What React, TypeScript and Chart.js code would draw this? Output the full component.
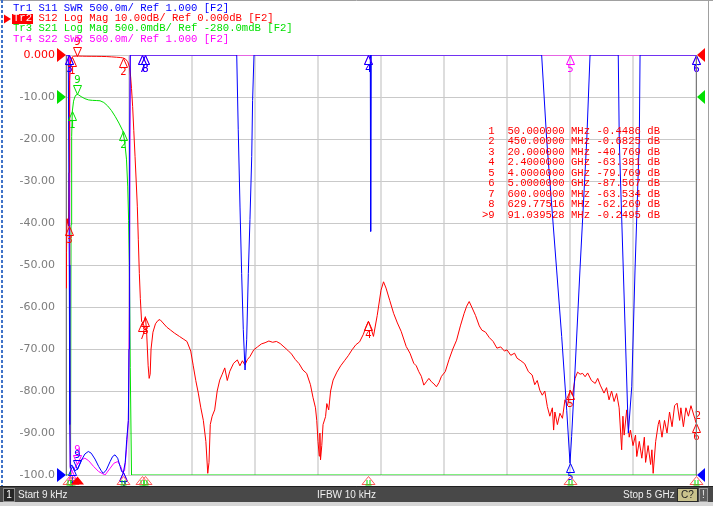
import React, { useEffect, useRef } from "react";
import { Chart, registerables } from "chart.js";

Chart.register(...registerables);

// ---------------- data (frequency GHz, value) ----------------
// Tr2 S12 Log Mag (dB)
const s12Db: [number, number][] = [
  [0.000009, -55.5], [0.004, -47], [0.008, -39], [0.014, -40], [0.02, -40.77], [0.024, -28], [0.027, -15],
  [0.03, -6], [0.035, -2], [0.04, -1.0], [0.05, -0.45], [0.06, -0.33], [0.07, -0.28], [0.08, -0.26],
  [0.091, -0.25], [0.1, -0.26], [0.13, -0.28], [0.16, -0.3], [0.2, -0.31], [0.24, -0.32], [0.28, -0.34],
  [0.32, -0.37], [0.36, -0.44], [0.4, -0.53], [0.43, -0.6], [0.45, -0.68], [0.47, -0.9], [0.49, -1.6],
  [0.505, -3], [0.513, -5.2], [0.52, -8], [0.529, -12.3], [0.538, -18], [0.548, -24.2], [0.557, -30],
  [0.566, -36], [0.574, -44], [0.582, -52], [0.59, -58], [0.6, -63.5], [0.615, -63.8], [0.63, -62.3],
  [0.64, -66], [0.652, -74], [0.66, -77], [0.668, -76], [0.675, -70], [0.69, -66], [0.71, -64],
  [0.73, -63.2], [0.746, -63], [0.77, -63.8], [0.8, -64.8], [0.83, -65.5], [0.86, -66.2], [0.9, -67],
  [0.93, -67.6], [0.96, -68.2], [0.99, -70.5], [1.01, -74], [1.03, -77.5], [1.05, -80.5], [1.07, -84],
  [1.09, -87], [1.11, -92], [1.125, -99.6], [1.135, -97], [1.145, -88], [1.16, -86], [1.18, -84.5],
  [1.2, -80], [1.22, -77.4], [1.24, -76], [1.26, -74.5], [1.28, -77.5], [1.3, -75.3], [1.33, -73.4],
  [1.36, -72.6], [1.38, -74], [1.4, -72.8], [1.42, -73.8], [1.44, -72.5], [1.46, -71.8], [1.49, -70.2],
  [1.52, -69.5], [1.55, -68.8], [1.58, -68.5], [1.61, -68.1], [1.64, -68.4], [1.67, -68.2], [1.7, -68.7],
  [1.73, -69.5], [1.76, -70.3], [1.79, -71.2], [1.82, -72.5], [1.85, -73.5], [1.88, -75], [1.91, -75.8],
  [1.94, -78.5], [1.96, -81.5], [1.98, -84], [1.99, -87], [2.0, -92], [2.01, -95.5], [2.015, -90],
  [2.02, -96.4], [2.03, -93], [2.04, -88], [2.06, -86.1], [2.07, -83], [2.085, -84.5], [2.1, -80],
  [2.12, -77.4], [2.15, -75.5], [2.18, -74], [2.21, -72.8], [2.24, -71.6], [2.27, -70.2], [2.3, -69],
  [2.33, -68.3], [2.36, -66.5], [2.38, -64.8], [2.4, -63.4], [2.42, -65], [2.44, -67], [2.47, -62],
  [2.5, -56], [2.52, -54], [2.54, -55.5], [2.57, -58.5], [2.6, -61.5], [2.63, -63.8], [2.66, -65.8],
  [2.7, -69.4], [2.73, -71], [2.76, -73.4], [2.78, -74], [2.8, -75.4], [2.82, -76.5], [2.84, -78.6],
  [2.86, -77.8], [2.88, -77], [2.9, -77.8], [2.92, -78.3], [2.94, -79], [2.96, -78], [2.98, -76.5],
  [3.01, -75.4], [3.04, -72.5], [3.07, -70], [3.1, -67.9], [3.13, -64.5], [3.16, -61.5], [3.18, -59.8],
  [3.2, -58.7], [3.22, -60], [3.25, -62], [3.28, -64.5], [3.3, -65.5], [3.33, -66], [3.36, -67.3],
  [3.39, -68.2], [3.42, -69.8], [3.45, -69.5], [3.48, -70.5], [3.5, -70.2], [3.53, -71.5], [3.56, -71],
  [3.58, -72.2], [3.61, -72.8], [3.64, -73.5], [3.67, -75.4], [3.7, -76.2], [3.72, -78.5], [3.74, -77.5],
  [3.76, -79.8], [3.78, -81], [3.8, -80], [3.82, -83.7], [3.84, -86], [3.86, -84], [3.87, -89.3],
  [3.88, -85], [3.9, -88], [3.92, -85.3], [3.94, -86.5], [3.96, -82.1], [3.98, -83.5], [4.0, -79.77],
  [4.02, -81], [4.04, -77], [4.06, -75.5], [4.08, -76], [4.1, -75.8], [4.12, -76.6], [4.14, -75.7],
  [4.17, -77.5], [4.2, -78.2], [4.22, -77], [4.24, -78.6], [4.27, -80.5], [4.29, -79.2], [4.31, -82.1],
  [4.33, -80], [4.35, -82.5], [4.37, -80.6], [4.39, -84], [4.41, -94], [4.42, -86], [4.43, -90.5],
  [4.45, -84.5], [4.47, -91], [4.48, -89.3], [4.5, -93], [4.52, -90.5], [4.53, -95.6], [4.55, -92],
  [4.57, -96], [4.59, -91], [4.6, -97], [4.62, -93], [4.64, -97.5], [4.65, -94], [4.66, -99.6],
  [4.68, -92], [4.7, -88], [4.71, -86.9], [4.73, -91], [4.75, -87], [4.77, -90], [4.79, -85],
  [4.81, -88.5], [4.83, -83.5], [4.85, -82.9], [4.87, -87], [4.88, -84], [4.9, -88.5], [4.92, -84],
  [4.94, -86], [4.96, -83.5], [4.97, -84.5], [4.99, -86.5], [5.0, -87.57],
];

// Tr3 S21 Log Mag (dB)
const s21Db: [number, number][] = [
  [0.000009, -55], [0.02, -40.8], [0.03, -8], [0.036, -5], [0.04, -1.8], [0.045, -0.75], [0.05, -0.45],
  [0.06, -0.33], [0.07, -0.28], [0.08, -0.255], [0.091, -0.2495], [0.1, -0.255], [0.12, -0.275],
  [0.15, -0.3], [0.18, -0.315], [0.21, -0.32], [0.24, -0.322], [0.27, -0.325], [0.3, -0.345],
  [0.33, -0.385], [0.36, -0.44], [0.39, -0.51], [0.42, -0.59], [0.45, -0.68], [0.465, -0.8],
  [0.48, -1.02], [0.49, -1.35], [0.497, -1.75], [0.503, -2.25], [0.51, -3.5], [0.52, -8], [0.6, -63.5],
  [1.0, -70], [2.0, -92], [3.0, -75], [4.0, -80], [5.0, -87.6],
];

// Tr1 S11 SWR
const s11Swr: [number, number][] = [
  [0.000009, 40], [0.018, 12], [0.022, 6.5], [0.026, 3.5], [0.03, 1.6], [0.034, 1.08], [0.045, 1.12],
  [0.055, 1.1], [0.07, 1.05], [0.091, 1.07], [0.12, 1.17], [0.15, 1.25], [0.177, 1.28], [0.2, 1.26],
  [0.23, 1.19], [0.26, 1.1], [0.28, 1.05], [0.296, 1.02], [0.32, 1.06], [0.35, 1.16], [0.37, 1.22],
  [0.389, 1.24], [0.41, 1.2], [0.43, 1.1], [0.442, 1.04], [0.455, 1.03], [0.47, 1.15], [0.482, 1.42],
  [0.495, 1.65], [0.5, 2.5], [0.505, 5], [0.51, 12], [0.6, 30], [1.0, 20], [1.34, 8], [1.355, 6.1],
  [1.367, 5.11], [1.381, 4.19], [1.394, 3.4], [1.407, 2.73], [1.421, 2.25], [1.434, 2.61], [1.447, 3.4],
  [1.46, 4.04], [1.474, 4.79], [1.481, 5.46], [1.492, 6.1], [1.51, 8], [2.0, 20], [2.41, 10],
  [2.415, 6.5], [2.418, 3.9], [2.422, 6.5], [2.43, 10], [3.0, 25], [3.76, 8], [3.775, 6.1],
  [3.815, 4.99], [3.894, 3.44], [3.934, 2.65], [3.974, 1.77], [4.0, 1.14], [4.013, 1.46], [4.04, 2.25],
  [4.079, 3.44], [4.133, 4.99], [4.159, 6.1], [4.18, 8], [4.37, 8], [4.383, 6.1], [4.391, 4.99],
  [4.423, 3.44], [4.463, 1.5], [4.49, 2.05], [4.516, 3.44], [4.55, 4.99], [4.556, 6.1], [4.58, 8],
  [5.0, 30],
];

// Tr4 S22 SWR
const s22Swr: [number, number][] = [
  [0.000009, 40], [0.02, 12], [0.025, 6], [0.029, 3], [0.033, 1.1], [0.045, 1.04], [0.06, 1.06],
  [0.09, 1.13], [0.12, 1.18], [0.15, 1.2], [0.18, 1.17], [0.22, 1.1], [0.26, 1.04], [0.31, 1.0],
  [0.35, 1.08], [0.38, 1.14], [0.41, 1.16], [0.435, 1.1], [0.45, 1.03], [0.465, 1.05], [0.48, 1.3],
  [0.495, 1.65], [0.503, 3], [0.51, 10], [1.0, 30], [5.0, 30],
];

const yTickLabels = ["0.000", "-10.00", "-20.00", "-30.00", "-40.00", "-50.00", "-60.00", "-70.00", "-80.00", "-90.00", "-100.0"];

const markerIds = ["1", "2", "3", "4", "5", "6", "7", "8", ">9"];
const markerFreqGHz = [0.05, 0.45, 0.02, 2.4, 4.0, 5.0, 0.6, 0.62977516, 0.091039528];
const markerFreqText = ["50.000000", "450.00000", "20.000000", "2.4000000", "4.0000000", "5.0000000", "600.00000", "629.77516", "91.039528"];
const markerUnit = ["MHz", "MHz", "MHz", "GHz", "GHz", "GHz", "MHz", "MHz", "MHz"];
const markerValueText = ["-0.4486", "-0.6825", "-40.769", "-63.381", "-79.769", "-87.567", "-63.534", "-62.269", "-0.2495"];

const legendLines = [
  "Tr1 S11 SWR 500.0m/ Ref 1.000 [F2]",
  "Tr2 S12 Log Mag 10.00dB/ Ref 0.000dB [F2]",
  "Tr3 S21 Log Mag 500.0mdB/ Ref -280.0mdB [F2]",
  "Tr4 S22 SWR 500.0m/ Ref 1.000 [F2]",
];
const statusTexts = ["Start 9 kHz", "IFBW 10 kHz", "Stop 5 GHz"];

// scale settings: reference value, value per division, reference position (divisions from bottom)
const S12_REF = 0, S12_DIV = 10, S12_POS = 10;
const S21_REF = -0.28, S21_DIV = 0.5, S21_POS = 9;
const SWR_REF = 1.0, SWR_DIV = 0.5, SWR_POS = 0;

const BLUE = "#0000ff";
const RED = "#ff0000";
const GREEN = "#00e000";
const MAGENTA = "#ff00ff";

const range = (ref: number, div: number, pos: number) => {
  const min = ref - pos * div;
  return { min, max: min + 10 * div };
};
const s12Range = range(S12_REF, S12_DIV, S12_POS);
const s21Range = range(S21_REF, S21_DIV, S21_POS);
const swrRange = range(SWR_REF, SWR_DIV, SWR_POS);

const clamp = (v: number, lo: number, hi: number) => Math.max(lo, Math.min(hi, v));

const traces = [
  { pts: s11Swr, axis: "ySwr", r: swrRange, color: BLUE, order: 1 },
  { pts: s12Db, axis: "y", r: s12Range, color: RED, order: 2 },
  { pts: s22Swr, axis: "ySwr", r: swrRange, color: MAGENTA, order: 3 },
  { pts: s21Db, axis: "yS21", r: s21Range, color: GREEN, order: 4 },
];

function interp(pts: [number, number][], f: number) {
  if (f <= pts[0][0]) return pts[0][1];
  for (let i = 1; i < pts.length; i++) {
    if (f <= pts[i][0]) {
      const t = (f - pts[i - 1][0]) / (pts[i][0] - pts[i - 1][0]);
      return pts[i - 1][1] + t * (pts[i][1] - pts[i - 1][1]);
    }
  }
  return pts[pts.length - 1][1];
}

const markerPlugin = {
  id: "vnaMarkers",
  afterDatasetsDraw(chart: any) {
    const ctx = chart.ctx;
    const xs = chart.scales.x;
    ctx.save();
    ctx.lineWidth = 1;
    ctx.font = '10px "DejaVu Sans"';
    ctx.textAlign = "center";
    ctx.textBaseline = "middle";
    const drawOrder = [...traces].sort((a, b) => b.order - a.order);
    for (const tr of drawOrder) {
      const sc = chart.scales[tr.axis];
      ctx.strokeStyle = tr.color;
      ctx.fillStyle = tr.color;
      markerFreqGHz.forEach((f, i) => {
        const v = interp(tr.pts, f);
        if (v < sc.min) return;
        const x = Math.round(xs.getPixelForValue(f)) + 0.5;
        const y = Math.round(sc.getPixelForValue(Math.min(v, sc.max))) + 0.5;
        const active = i === markerIds.length - 1;
        const label = markerIds[i].replace(">", "");
        ctx.beginPath();
        if (active) {
          ctx.moveTo(x, y);
          ctx.lineTo(x - 4, y - 9);
          ctx.lineTo(x + 4, y - 9);
        } else {
          ctx.moveTo(x, y);
          ctx.lineTo(x - 4, y + 9);
          ctx.lineTo(x + 4, y + 9);
        }
        ctx.closePath();
        ctx.stroke();
        ctx.fillText(label, x, active ? y - 14 : y + 14);
      });
    }
    // trace number at the end of the active trace
    const last = s12Db[s12Db.length - 1];
    ctx.fillStyle = RED;
    ctx.fillText("2", xs.getPixelForValue(last[0]) + 2, chart.scales.y.getPixelForValue(last[1]) - 6);
    ctx.restore();
  },
};

const decorPlugin = {
  id: "vnaDecor",
  beforeDraw(chart: any) {
    const ctx = chart.ctx;
    ctx.save();
    ctx.fillStyle = "#ffffff";
    ctx.fillRect(0, 0, chart.width, chart.height);
    ctx.restore();
  },
  afterDraw(chart: any) {
    const ctx = chart.ctx;
    const a = chart.chartArea;
    const xs = chart.scales.x;
    ctx.save();

    // right frame
    ctx.strokeStyle = "#7a7a7a";
    ctx.lineWidth = 1;
    ctx.beginPath();
    ctx.moveTo(a.right + 0.5, a.top);
    ctx.lineTo(a.right + 0.5, a.bottom + 1);
    ctx.stroke();

    // reference-level triangles
    const refs = [
      { axis: "ySwr", v: SWR_REF, c: BLUE },
      { axis: "yS21", v: S21_REF, c: GREEN },
      { axis: "y", v: S12_REF, c: RED },
    ];
    for (const r of refs) {
      const y = chart.scales[r.axis].getPixelForValue(r.v);
      ctx.fillStyle = r.c;
      ctx.beginPath();
      ctx.moveTo(a.left, y);
      ctx.lineTo(a.left - 9, y - 7);
      ctx.lineTo(a.left - 9, y + 7);
      ctx.closePath();
      ctx.fill();
      ctx.beginPath();
      ctx.moveTo(a.right + 1, y);
      ctx.lineTo(a.right + 9, y - 7);
      ctx.lineTo(a.right + 9, y + 7);
      ctx.closePath();
      ctx.fill();
    }

    // marker indicators below the grid
    markerFreqGHz.forEach((f, i) => {
      const x = Math.round(xs.getPixelForValue(f)) + 0.5;
      const active = i === markerIds.length - 1;
      ctx.beginPath();
      ctx.moveTo(x, a.bottom + 1.5);
      ctx.lineTo(x - 6.5, a.bottom + 9.5);
      ctx.lineTo(x + 6.5, a.bottom + 9.5);
      ctx.closePath();
      if (active) {
        ctx.fillStyle = RED;
        ctx.fill();
      } else {
        ctx.strokeStyle = "#ff5a5a";
        ctx.stroke();
        ctx.strokeStyle = GREEN;
        ctx.beginPath();
        ctx.moveTo(x - 1.5, a.bottom + 5);
        ctx.lineTo(x - 1.5, a.bottom + 9);
        ctx.moveTo(x + 1.5, a.bottom + 5);
        ctx.lineTo(x + 1.5, a.bottom + 9);
        ctx.moveTo(x - 3, a.bottom + 10);
        ctx.lineTo(x + 3, a.bottom + 10);
        ctx.stroke();
      }
    });

    // trace legend
    const colors = [BLUE, RED, GREEN, MAGENTA];
    ctx.font = '10.6px "Liberation Mono"';
    ctx.textAlign = "left";
    ctx.textBaseline = "middle";
    legendLines.forEach((t, i) => {
      ctx.fillStyle = colors[i];
      ctx.fillText(t, 13, 8 + i * 10.3);
    });
    ctx.fillStyle = RED;
    ctx.fillRect(12, 14, 21, 10);
    ctx.fillStyle = "#ffffff";
    ctx.fillText(legendLines[1].slice(0, 3), 13, 18.5);
    ctx.fillStyle = RED;
    ctx.beginPath();
    ctx.moveTo(11, 19);
    ctx.lineTo(4, 14.5);
    ctx.lineTo(4, 23.5);
    ctx.closePath();
    ctx.fill();

    // marker table
    ctx.fillStyle = RED;
    markerIds.forEach((id, i) => {
      const s = id.padStart(2, " ") + "  " + markerFreqText[i] + " " + markerUnit[i] + " " + markerValueText[i] + " dB";
      ctx.fillText(s, 482, 131 + i * 10.5);
    });

    // window borders
    ctx.strokeStyle = "#a0a0a0";
    ctx.beginPath();
    ctx.moveTo(0, 0.5);
    ctx.lineTo(713, 0.5);
    ctx.moveTo(708.5, 0);
    ctx.lineTo(708.5, 486);
    ctx.stroke();
    ctx.strokeStyle = "#3f72c8";
    ctx.lineWidth = 2;
    ctx.setLineDash([3, 2]);
    ctx.beginPath();
    ctx.moveTo(2, 0);
    ctx.lineTo(2, 486);
    ctx.stroke();
    ctx.setLineDash([]);

    // status bar
    ctx.fillStyle = "#d6d6d6";
    ctx.fillRect(0, 486, 713, 20);
    ctx.fillStyle = "#484848";
    ctx.fillRect(0, 486, 713, 16);
    ctx.strokeStyle = "#202020";
    ctx.lineWidth = 1;
    ctx.beginPath();
    ctx.moveTo(0, 486.5);
    ctx.lineTo(713, 486.5);
    ctx.stroke();
    ctx.fillStyle = "#262626";
    ctx.fillRect(3, 488, 11, 13);
    ctx.strokeStyle = "#8a8a8a";
    ctx.strokeRect(3.5, 488.5, 11, 13);
    ctx.font = '10px "Liberation Sans"';
    ctx.fillStyle = "#ffffff";
    ctx.textAlign = "center";
    ctx.fillText("1", 9, 495);
    ctx.textAlign = "left";
    ctx.fillStyle = "#efefef";
    const sx = [18, 317, 623];
    statusTexts.forEach((t, i) => ctx.fillText(t, sx[i], 495));
    ctx.fillStyle = "#c9c28c";
    ctx.fillRect(677, 488, 20, 13);
    ctx.strokeStyle = "#2a2a2a";
    ctx.strokeRect(677.5, 488.5, 20, 13);
    ctx.fillStyle = "#202020";
    ctx.textAlign = "center";
    ctx.fillText("C?", 687.5, 495);
    ctx.fillStyle = "#5c5c5c";
    ctx.fillRect(699, 488, 9, 13);
    ctx.strokeStyle = "#9a9a9a";
    ctx.strokeRect(699.5, 488.5, 8, 13);
    ctx.fillStyle = "#eeeeee";
    ctx.fillText("!", 703.5, 495);
    ctx.restore();
  },
};

export default function App() {
  const ref = useRef<HTMLCanvasElement | null>(null);
  useEffect(() => {
    if (!ref.current) return;
    const chart = new Chart(ref.current, {
      type: "line",
      data: {
        datasets: traces.map((tr) => ({
          data: tr.pts.map(([f, v]) => ({ x: f, y: clamp(v, tr.r.min, tr.r.max) })),
          yAxisID: tr.axis,
          borderColor: tr.color,
          borderWidth: 1,
          pointRadius: 0,
          tension: 0,
          fill: false,
          order: tr.order,
        })),
      },
      options: {
        responsive: false,
        animation: false,
        devicePixelRatio: 1,
        events: [],
        layout: { padding: { left: 8, top: 55, right: 17, bottom: 31 } },
        plugins: { legend: { display: false }, tooltip: { enabled: false }, title: { display: false } },
        scales: {
          x: {
            type: "linear",
            min: 0,
            max: 5,
            ticks: { display: false, stepSize: 0.5 },
            grid: { color: "#dddddd", lineWidth: 2, drawTicks: false },
            border: { display: false },
            afterFit: (s: any) => {
              s.height = 0;
            },
          },
          y: {
            type: "linear",
            position: "left",
            min: s12Range.min,
            max: s12Range.max,
            ticks: {
              stepSize: S12_DIV,
              padding: 11,
              font: { family: "DejaVu Sans", size: 11 },
              color: (c: any) => (c.tick && c.tick.value === S12_REF ? RED : "#7c7c7c"),
              callback: (v: any) => yTickLabels[Math.round((S12_REF - Number(v)) / S12_DIV)],
            },
            grid: { color: "#c9c9c9", lineWidth: 1, drawTicks: false },
            border: { display: true, color: "#7a7a7a" },
            afterFit: (s: any) => {
              s.width = 58;
            },
          },
          ySwr: { type: "linear", display: false, min: swrRange.min, max: swrRange.max },
          yS21: { type: "linear", display: false, min: s21Range.min, max: s21Range.max },
        },
      } as any,
      plugins: [markerPlugin, decorPlugin],
    });
    return () => chart.destroy();
  }, []);
  return (
    <div style={{ position: "absolute", left: 0, top: 0, width: 713, height: 506 }}>
      <canvas ref={ref} width={713} height={506} style={{ display: "block", width: 713, height: 506 }} />
    </div>
  );
}
